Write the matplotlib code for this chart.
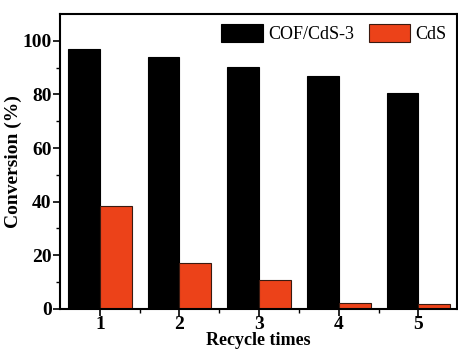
import matplotlib.pyplot as plt
import numpy as np

# recycle data
cycles = [1, 2, 3, 4, 5]
cof_cds = [97, 93.8, 90.4, 87, 80.4]
cds = [38.3, 17.1, 10.8, 2.3, 1.9]

plt.rcParams['font.family'] = 'Liberation Serif'

fig = plt.figure(figsize=(4.58, 3.49), dpi=100)
ax = fig.add_axes([0.131, 0.115, 0.866, 0.845])

x = np.array(cycles)
w = 0.4
ax.bar(x - w / 2, cof_cds, w, color='black', edgecolor='black', linewidth=0.8, label='COF/CdS-3')
ax.bar(x + w / 2, cds, w, color='#ec4219', edgecolor='#3a1a10', linewidth=0.8, label='CdS')

ax.set_xlim(0.5, 5.48)
ax.set_ylim(0, 110)
ax.set_xticks(cycles)
ax.set_xticks([1.5, 2.5, 3.5, 4.5], minor=True)
ax.set_yticks([0, 20, 40, 60, 80, 100])
ax.set_yticks([10, 30, 50, 70, 90], minor=True)
ax.tick_params(which='major', direction='out', length=5, width=1.2, labelsize=14)
ax.tick_params(axis='x', which='major', pad=0)
ax.tick_params(axis='y', which='major', pad=1)
ax.tick_params(which='minor', direction='out', length=3, width=1)
for lab in ax.get_xticklabels() + ax.get_yticklabels():
    lab.set_fontweight('bold')
for s in ax.spines.values():
    s.set_linewidth(1.5)

ax.set_ylabel('Conversion (%)', fontsize=14, fontweight='bold')
ax.yaxis.set_label_coords(-0.095, 0.5)
ax.set_xlabel('Recycle times', fontsize=13, fontweight='bold')
ax.xaxis.set_label_coords(0.5, -0.078)

ax.legend(loc='upper right', ncol=2, frameon=False, fontsize=13,
          handlelength=2.3, handleheight=1.2, columnspacing=0.8,
          handletextpad=0.3, borderaxespad=0.15)

plt.savefig('out.png', dpi=100)
